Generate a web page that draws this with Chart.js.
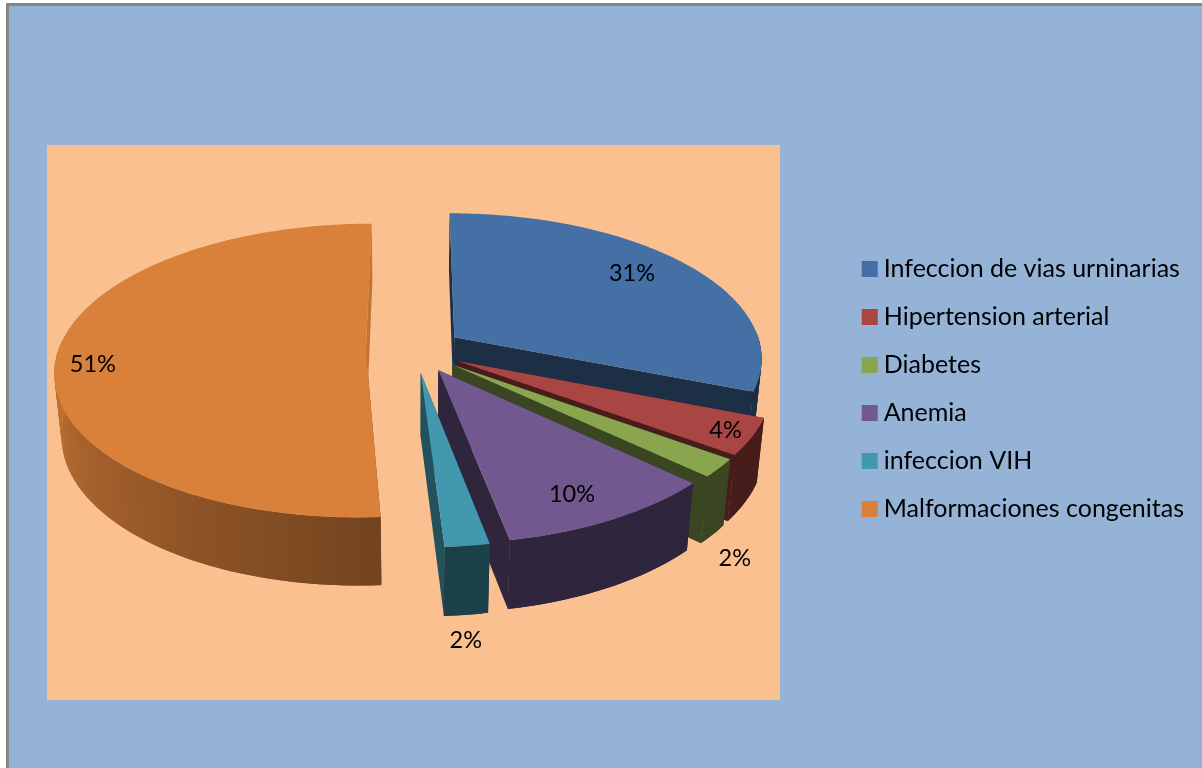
<!DOCTYPE html>
<html>
<head>
    <meta charset="utf-8">
    <title>Patologias</title>
    <script src="https://cdn.jsdelivr.net/npm/chart.js"></script>
    <style>
        html, body {
            margin: 0;
            background: #fff;
        }
        #frame {
            position: absolute;
            left: 6px;
            top: 3px;
            right: 0;
            bottom: 0;
            background: #95B3D7;
            border-left: 3px solid #868686;
            border-top: 3px solid #868686;
        }
        #panel {
            position: absolute;
            left: 47px;
            top: 145px;
            width: 733px;
            height: 555px;
            background: #FAC090;
        }
        #box {
            position: absolute;
            left: 0;
            top: 0;
            width: 1202px;
            height: 768px;
        }
    </style>
</head>
<body>
    <div id="frame"></div>
    <div id="panel"></div>
    <div id="box"><canvas id="pie"></canvas></div>

    <script>
    const categories = ['Infeccion de vias urninarias', 'Hipertension arterial', 'Diabetes', 'Anemia', 'infeccion VIH', 'Malformaciones congenitas'];
    const values = [31, 4, 2, 10, 2, 51];
    const sliceColors = ['#4470A5', '#A94542', '#89A54E', '#71588F', '#4198AF', '#D9803A'];

    // where each % label sits: distance from the slice tip (1 = rim) and turn in degrees off the slice middle
    const labelRadius = [0.81, 0.91, 1.33, 0.82, 1.42, 0.88];
    const labelTurn = [-4.4, -0.9, 16, 1.5, 2.7, -2.8];

    // camera used to fake the 3D look of the office chart
    const view = { cx: 414.5, cy: 350, r: 307.5, flat: 144, near: 0.135, depth: 63.6, shrink: 0.02 };

    // u, v are in pie radii (v goes towards the viewer), z is 0 on top and 1 at the bottom of the pie
    function project(u, v, z) {
        const w = 1 - view.near * v + view.shrink * z;
        return [view.cx + view.r * u / w, view.cy + (view.flat * v + view.depth * z) / w];
    }

    function wallShade(turn) {
        if (turn < 176) return 0.42;
        return 0.53 + Math.min(turn - 176, 94) / 94 * 0.37;
    }

    function darker(hex, f) {
        const n = parseInt(hex.slice(1), 16);
        return `rgb(${(n >> 16) * f}, ${((n >> 8) & 255) * f}, ${(n & 255) * f})`;
    }

    function fillPoly(ctx, pts, color) {
        ctx.fillStyle = color;
        ctx.beginPath();
        pts.forEach((p, i) => i ? ctx.lineTo(p[0], p[1]) : ctx.moveTo(p[0], p[1]));
        ctx.closePath();
        ctx.fill();
    }

    function sliceTip(arc) {
        const half = (arc.startAngle + arc.endAngle) / 2;
        const out = arc.options.offset / 4 / arc.outerRadius;
        return [out * Math.cos(half), out * Math.sin(half)];
    }

    function toTurn(angle) {
        return (angle + Math.PI / 2) * 180 / Math.PI;
    }

    // every arc the library lays out is drawn with a wall under it, through the camera
    Chart.ArcElement.prototype.draw = function(ctx) {
        const color = this.options.backgroundColor;
        const tip = sliceTip(this);
        const steps = Math.ceil((this.endAngle - this.startAngle) * 60);
        const rim = [];
        for (let i = 0; i <= steps; i++) {
            const a = this.startAngle + (this.endAngle - this.startAngle) * i / steps;
            rim.push({ a: a, u: tip[0] + Math.cos(a), v: tip[1] + Math.sin(a) });
        }
        const cut = (p, turn) => fillPoly(ctx, [
            project(tip[0], tip[1], 0), project(p.u, p.v, 0), project(p.u, p.v, 1), project(tip[0], tip[1], 1)
        ], darker(color, wallShade(turn)));

        ctx.save();
        cut(rim[0], toTurn(this.startAngle));
        cut(rim[steps], toTurn(this.endAngle));
        for (let i = 0; i < steps; i++) {
            const p = rim[i], q = rim[Math.min(i + 2, steps)]; // overlap one step so no seams show
            if (Math.sin(p.a) < -0.05) continue; // back of the rim can't be seen
            fillPoly(ctx, [project(p.u, p.v, 0), project(q.u, q.v, 0), project(q.u, q.v, 1), project(p.u, p.v, 1)],
                darker(color, wallShade(toTurn(p.a))));
        }
        fillPoly(ctx, [project(tip[0], tip[1], 0)].concat(rim.map(p => project(p.u, p.v, 0))), color);
        ctx.restore();
    };

    const percentLabels = {
        id: 'percentLabels',
        afterDatasetsDraw(chart) {
            const ctx = chart.ctx;
            ctx.save();
            ctx.font = '23.5px Lato';
            ctx.fillStyle = '#000';
            ctx.textAlign = 'center';
            ctx.textBaseline = 'middle';
            chart.getDatasetMeta(0).data.forEach((arc, i) => {
                const tip = sliceTip(arc);
                const a = (arc.startAngle + arc.endAngle) / 2 + labelTurn[i] * Math.PI / 180;
                const p = project(tip[0] + labelRadius[i] * Math.cos(a), tip[1] + labelRadius[i] * Math.sin(a), 0);
                ctx.fillText(values[i] + '%', p[0], p[1] + 3);
            });
            ctx.restore();
        }
    };

    new Chart(document.getElementById('pie'), {
        type: 'pie',
        data: {
            labels: categories,
            datasets: [{
                data: values,
                backgroundColor: sliceColors,
                borderColor: sliceColors, // legend swatch gets bigger with this, and the text stays close
                borderWidth: 13,
                offset: 179
            }]
        },
        options: {
            responsive: true,
            maintainAspectRatio: false,
            animation: false,
            layout: {
                padding: { top: 10, right: 8 }
            },
            plugins: {
                tooltip: { enabled: false },
                legend: {
                    position: 'right',
                    labels: {
                        color: '#000',
                        font: { family: 'Lato', size: 25 },
                        boxWidth: 3,
                        boxHeight: 3,
                        padding: 23
                    }
                }
            }
        },
        plugins: [percentLabels]
    });
    </script>
</body>
</html>
